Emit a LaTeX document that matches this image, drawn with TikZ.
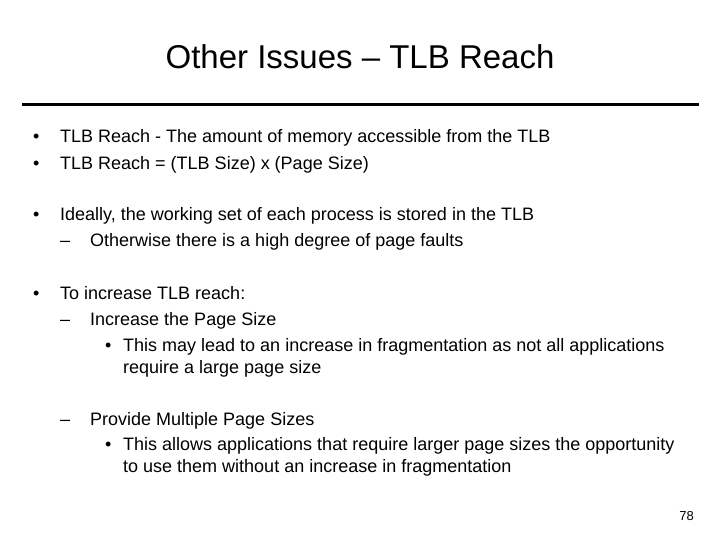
\documentclass[tikz,border=0pt]{standalone}
\usepackage{fontspec}
\setmainfont{Liberation Sans}
\begin{document}
\begin{tikzpicture}[x=1pt,y=-1pt,
  txt/.style={anchor=base west,inner sep=0pt,font=\fontsize{18}{20}\selectfont},
  ttl/.style={anchor=base,inner sep=0pt,font=\fontsize{33}{36}\selectfont}]
\useasboundingbox (0,0) rectangle (720,540);
\node[ttl] (title) at (360,69) {Other Issues – TLB Reach};
\coordinate (rl) at (22,105); \coordinate (rr) at (699,105);
\draw[line width=3pt] (rl) -- (rr);
\node[txt] (b1) at (33,143) {•};
\node[txt] (t1) at (60,143) {TLB Reach - The amount of memory accessible from the TLB};
\node[txt] (b2) at (33,170) {•};
\node[txt] (t2) at (60,170) {TLB Reach = (TLB Size) x (Page Size)};
\node[txt] (b3) at (33,221) {•};
\node[txt] (t3) at (60,221) {Ideally, the working set of each process is stored in the TLB};
\node[txt] (t4) at (60,247) {–\hspace{20pt}Otherwise there is a high degree of page faults};
\node[txt] (b5) at (33,299) {•};
\node[txt] (t5) at (60,299) {To increase TLB reach:};
\node[txt] (t6) at (60,325) {–\hspace{20pt}Increase the Page Size};
\node[txt] (b7) at (105,351) {•};
\node[txt] (t7) at (123,351) {This may lead to an increase in fragmentation as not all applications};
\node[txt] (t8) at (123,373) {require a large page size};
\node[txt] (t9) at (60,425) {–\hspace{20pt}Provide Multiple Page Sizes};
\node[txt] (b10) at (105,450) {•};
\node[txt] (t10) at (123,450) {This allows applications that require larger page sizes the opportunity};
\node[txt] (t11) at (123,472) {to use them without an increase in fragmentation};
\node[anchor=base east,inner sep=0pt,font=\fontsize{13}{15}\selectfont] (pg) at (694,520) {78};
\end{tikzpicture}
\end{document}
